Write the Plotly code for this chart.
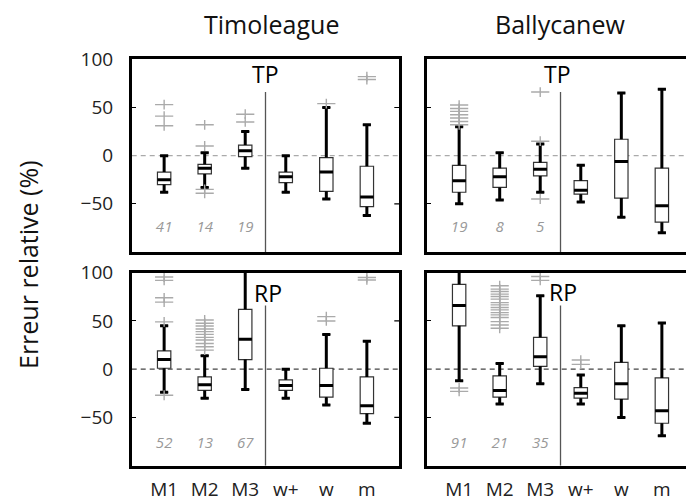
import plotly.graph_objects as go

# Methods compared, site titles and value ticks
METHODS = ["M1", "M2", "M3", "w+", "w", "m"]
SITES = ["Timoleague", "Ballycanew"]
Y_TICKS = [-50, 0, 50, 100]
Y_MARKS = [-50, 50]

# Timoleague, TP: whisker ends, quartiles, medians, outliers, sample counts
TIM_TP_LOW = [-38, -33, -13, -38, -45, -62]
TIM_TP_Q1 = [-30, -19, -1, -28, -37, -53]
TIM_TP_MED = [-25, -13, 5, -22, -17, -43]
TIM_TP_Q3 = [-17, -9, 11, -17, -2, -11]
TIM_TP_HIGH = [0, 3, 25, 0, 50, 32]
TIM_TP_OUT = [[53, 41, 31], [32, 10, -35, -39], [43, 35], [], [54], [82, 79]]
TIM_TP_N = [41, 14, 19]

# Ballycanew, TP
BAL_TP_LOW = [-50, -46, -38, -48, -64, -80]
BAL_TP_Q1 = [-38, -33, -21, -40, -44, -69]
BAL_TP_MED = [-26, -22, -14, -36, -6, -52]
BAL_TP_Q3 = [-10, -13, -7, -26, 17, -13]
BAL_TP_HIGH = [30, 3, 12, -10, 65, 69]
BAL_TP_OUT = [[32, 35.5, 39, 42.5, 46, 49, 52.5], [], [66, 15, -45], [], [], []]
BAL_TP_N = [19, 8, 5]

# Timoleague, RP
TIM_RP_LOW = [-24, -30, -21, -30, -37, -56]
TIM_RP_Q1 = [1, -22, 10, -22, -29, -46]
TIM_RP_MED = [10, -16, 31, -17, -17, -38]
TIM_RP_Q3 = [19, -8, 62, -11, 1, -8]
TIM_RP_HIGH = [45, 14, 120, 0, 36, 29]
TIM_RP_OUT = [[95.5, 92, 74, 69.5, 49, -27],
              [51, 47.6, 44.8, 41.7, 38.9, 36.1, 33, 30.2, 26.7, 23.3, 19.8],
              [], [], [54.5, 50], [95, 92.5]]
TIM_RP_N = [52, 13, 67]

# Ballycanew, RP
BAL_RP_LOW = [-12, -36, -15, -36, -50, -69]
BAL_RP_Q1 = [45, -29, 3, -30, -31, -56]
BAL_RP_MED = [66, -22, 13, -25, -15, -43]
BAL_RP_Q3 = [88, -7, 33, -19, 7, -9]
BAL_RP_HIGH = [120, 6, 76, -6, 45, 48]
BAL_RP_OUT = [[-19.5, -23],
              [86.5, 83, 80.5, 77.8, 75.3, 72.6, 69, 66.7, 63.9, 61.5, 58.6,
               56.3, 53.5, 49.3, 45.8, 42.4],
              [96, 92], [9.5, 5], [], []]
BAL_RP_N = [91, 21, 35]

FONT = "Open Sans"
W, H = 686, 502
BOX_W = 0.33
CAP = 0.1
TICK_PX = 5
N_MODEL = 3  # M1..M3 are the models; a divider separates them from w+, w, m

X_LEFT = [131.7 / W, 399.3 / W]
X_RIGHT = [426.7 / W, 1.0]
Y_TOP = [1 - 252 / H, 1 - 59.3 / H]
Y_BOT = [1 - 465.7 / H, 1 - 272.7 / H]

fig = go.Figure()


def add_panel(k, low, q1, med, q3, high, outliers, counts, zero_color,
              label, label_x, label_y, count_y, right_ticks):
    xa = "x" if k == 1 else f"x{k}"
    ya = "y" if k == 1 else f"y{k}"
    pos = list(range(len(METHODS)))

    fig.add_trace(go.Box(
        x=pos, q1=q1, median=med, q3=q3, lowerfence=low, upperfence=high,
        width=BOX_W, whiskerwidth=2 * CAP / BOX_W, fillcolor="white",
        line=dict(color="#333333", width=1.2), boxpoints=False,
        xaxis=xa, yaxis=ya, showlegend=False, hoverinfo="skip"))

    # heavy whiskers with end caps
    wx, wy = [], []
    for i in pos:
        wx += [i, i, None, i, i, None,
               i - CAP, i + CAP, None, i - CAP, i + CAP, None]
        wy += [low[i], q1[i], None, q3[i], high[i], None,
               low[i], low[i], None, high[i], high[i], None]
    fig.add_trace(go.Scatter(x=wx, y=wy, mode="lines",
                             line=dict(color="black", width=3),
                             xaxis=xa, yaxis=ya, showlegend=False,
                             hoverinfo="skip"))

    # heavy median bars
    mx, my = [], []
    for i in pos:
        mx += [i - BOX_W / 2, i + BOX_W / 2, None]
        my += [med[i], med[i], None]
    fig.add_trace(go.Scatter(x=mx, y=my, mode="lines",
                             line=dict(color="black", width=3),
                             xaxis=xa, yaxis=ya, showlegend=False,
                             hoverinfo="skip"))

    # outliers drawn as wide grey plus signs
    ox, oy = [], []
    for i, vals in zip(pos, outliers):
        ox += [i] * len(vals)
        oy += vals
    for sym, size in (("line-ew", 13), ("line-ns", 7)):
        fig.add_trace(go.Scatter(
            x=ox, y=oy, mode="markers",
            marker=dict(symbol=sym, size=size,
                        line=dict(color="#aaaaaa", width=1.4)),
            xaxis=xa, yaxis=ya, showlegend=False, hoverinfo="skip"))

    # sample counts under the model boxes
    fig.add_trace(go.Scatter(
        x=pos[:len(counts)], y=[count_y] * len(counts), mode="text",
        text=[str(c) for c in counts],
        textfont=dict(family=FONT, size=15, color="#999999", style="italic"),
        xaxis=xa, yaxis=ya, showlegend=False, hoverinfo="skip"))

    fig.add_shape(type="line", xref=f"{xa} domain", yref=ya, x0=0, x1=1,
                  y0=0, y1=0, layer="below",
                  line=dict(color=zero_color, width=1.2, dash="5px,4px"))
    sep = N_MODEL - 0.5
    fig.add_shape(type="line", xref=xa, yref=ya, x0=sep, x1=sep,
                  y0=-100, y1=66, line=dict(color="#555555", width=1.3))
    if right_ticks:
        span = (X_LEFT[1] - X_LEFT[0]) * W
        for v in Y_MARKS:
            fig.add_shape(type="line", xref=f"{xa} domain", yref=ya,
                          x0=1, x1=1 - TICK_PX / span, y0=v, y1=v,
                          line=dict(color="black", width=1.2))
    fig.add_annotation(text=label, x=label_x, y=label_y, xref=xa, yref=ya,
                       xanchor="center", yanchor="middle",
                       showarrow=False, font=dict(family=FONT, size=23,
                                                  color="black"))


add_panel(1, TIM_TP_LOW, TIM_TP_Q1, TIM_TP_MED, TIM_TP_Q3, TIM_TP_HIGH,
          TIM_TP_OUT, TIM_TP_N, "#aaaaaa", "TP", 2.5, 85, -75, True)
add_panel(2, BAL_TP_LOW, BAL_TP_Q1, BAL_TP_MED, BAL_TP_Q3, BAL_TP_HIGH,
          BAL_TP_OUT, BAL_TP_N, "#aaaaaa", "TP", 2.42, 85, -75, False)
add_panel(3, TIM_RP_LOW, TIM_RP_Q1, TIM_RP_MED, TIM_RP_Q3, TIM_RP_HIGH,
          TIM_RP_OUT, TIM_RP_N, "#444444", "RP", 2.57, 79, -78, True)
add_panel(4, BAL_RP_LOW, BAL_RP_Q1, BAL_RP_MED, BAL_RP_Q3, BAL_RP_HIGH,
          BAL_RP_OUT, BAL_RP_N, "#444444", "RP", 2.57, 80, -78, False)

tickfont = dict(family=FONT, size=19, color="#222222")


def xaxis(domain, rng, anchor, labels):
    return dict(domain=domain, range=rng, anchor=anchor, showline=True,
                linecolor="black", linewidth=2.5, mirror=True, ticks="",
                showgrid=False, zeroline=False, automargin=False,
                tickvals=list(range(len(METHODS))),
                ticktext=METHODS, showticklabels=labels,
                tickfont=dict(family=FONT, size=19, color="#222222"),
                ticklabelstandoff=5)


def yaxis(domain, anchor, labels, mirror):
    return dict(domain=domain, range=[-100, 100], anchor=anchor,
                showline=True, linecolor="black", linewidth=2.5,
                mirror=mirror, ticks="", showgrid=False, zeroline=False,
                automargin=False,
                tickvals=Y_TICKS, showticklabels=labels, tickfont=tickfont,
                ticklabelstandoff=12,
                minor=dict(tickvals=Y_MARKS, ticks="inside", ticklen=TICK_PX,
                           tickwidth=1.2, tickcolor="black", showgrid=False))


fig.update_layout(
    width=W, height=H, autosize=False,
    margin=dict(l=0, r=0, t=0, b=0, autoexpand=False),
    paper_bgcolor="white", plot_bgcolor="white",
    showlegend=False,
    xaxis=xaxis(X_LEFT, [-0.8, 5.8], "y", False),
    yaxis=yaxis(Y_TOP, "x", True, True),
    xaxis2=xaxis(X_RIGHT, [-0.8, 5.595], "y2", False),
    yaxis2=yaxis(Y_TOP, "x2", False, False),
    xaxis3=xaxis(X_LEFT, [-0.8, 5.8], "y3", True),
    yaxis3=yaxis(Y_BOT, "x3", True, True),
    xaxis4=xaxis(X_RIGHT, [-0.8, 5.595], "y4", True),
    yaxis4=yaxis(Y_BOT, "x4", False, False),
)

for site, xc in zip(SITES, (271, 560)):
    fig.add_annotation(text=site, x=xc / W, y=1 - 24 / H, xref="paper",
                       yref="paper", xanchor="center", yanchor="middle",
                       showarrow=False,
                       font=dict(family=FONT, size=25, color="#111111"))

fig.add_annotation(text="Erreur relative (%)", x=28 / W, y=1 - 265 / H,
                   xref="paper", yref="paper", textangle=-90,
                   xanchor="center", yanchor="middle", showarrow=False,
                   font=dict(family=FONT, size=25, color="#111111"))

fig.write_html("out.html")
